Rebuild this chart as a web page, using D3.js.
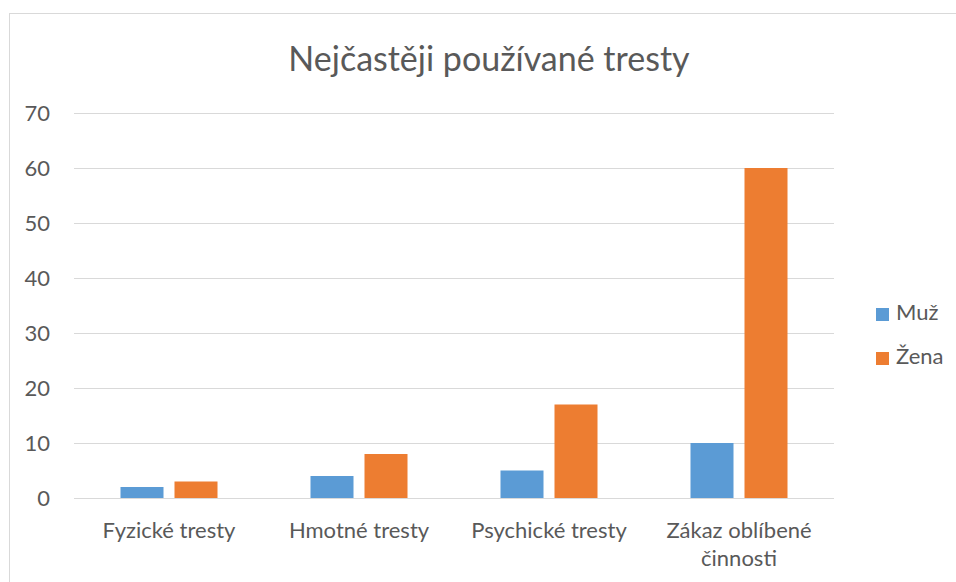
<!DOCTYPE html>
<html>
<head>
<meta charset="utf-8">
<script src="https://cdn.jsdelivr.net/npm/d3@7"></script>
<style>
  body { margin: 0; background: #fff; }
  svg { display: block; font-family: Lato, "Liberation Sans", sans-serif; }
</style>
</head>
<body>
<div class="main_content"></div>
<script>
// chart data
const categories = ['Fyzické tresty', 'Hmotné tresty', 'Psychické tresty', 'Zákaz oblíbené činnosti'];
const seriesNames = ['Muž', 'Žena'];
const muzValues = [2, 4, 5, 10];
const zenaValues = [3, 8, 17, 60];
const yTicks = [0, 10, 20, 30, 40, 50, 60, 70];
const titleText = 'Nejčastěji používané tresty';

const colors = {'Muž': '#5B9BD5', 'Žena': '#ED7D31'};
const textColor = '#595959';
const gridColor = '#D9D9D9';
const fontFamily = 'Lato, "Liberation Sans", sans-serif';

const width = 956, height = 582;
const margin = {top: 113, right: 122, bottom: 84, left: 74};

const svg = d3.select('.main_content').append('svg')
    .attr('width', width)
    .attr('height', height);

// chart area border
svg.append('rect')
    .attr('x', 9.5).attr('y', 13.5)
    .attr('width', 960).attr('height', 600)
    .style('fill', 'none')
    .style('stroke', gridColor)
    .style('stroke-width', 1);

const x0 = d3.scaleBand()
    .domain(categories)
    .range([margin.left, width - margin.right])
    .padding(0);

const x1 = d3.scaleBand()
    .domain(seriesNames)
    .range([0, x0.bandwidth()])
    .paddingInner(0.2037)
    .paddingOuter(0.861);

const y = d3.scaleLinear()
    .domain([0, 70])
    .range([height - margin.bottom, margin.top]);

// gridlines + y labels
const yAxis = svg.append('g')
    .attr('transform', `translate(${margin.left},0)`)
    .call(d3.axisLeft(y).tickValues(yTicks).tickSize(-(width - margin.left - margin.right)).tickPadding(24));
yAxis.select('.domain').remove();
yAxis.selectAll('line').style('stroke', gridColor).style('stroke-width', 1);
yAxis.selectAll('text')
    .style('fill', textColor)
    .style('font-family', fontFamily)
    .style('font-size', '22px')
    .attr('dy', '0.35em');

// bars
const rows = categories.map((c, i) => ({cat: c, 'Muž': muzValues[i], 'Žena': zenaValues[i]}));
const groups = svg.append('g').selectAll('g')
    .data(rows)
    .join('g')
    .attr('transform', d => `translate(${x0(d.cat)},0)`);
groups.selectAll('rect')
    .data(d => seriesNames.map(s => ({key: s, value: d[s]})))
    .join('rect')
    .attr('x', d => x1(d.key))
    .attr('y', d => y(d.value))
    .attr('width', x1.bandwidth())
    .attr('height', d => y(0) - y(d.value))
    .style('fill', d => colors[d.key]);

// x labels
const xAxis = svg.append('g')
    .attr('transform', `translate(0,${height - margin.bottom})`)
    .call(d3.axisBottom(x0).tickSize(0).tickPadding(24));
xAxis.select('.domain').remove();
xAxis.selectAll('text')
    .style('fill', textColor)
    .style('font-family', fontFamily)
    .style('font-size', '22px')
    .call(wrap, 170);

function wrap(texts, maxWidth) {
    texts.each(function () {
        const text = d3.select(this);
        const words = text.text().split(/\s+/);
        const yPos = text.attr('y');
        const dy = parseFloat(text.attr('dy'));
        text.text(null);
        let line = [];
        let lineNo = 0;
        let tspan = text.append('tspan').attr('x', 0).attr('y', yPos).attr('dy', dy + 'em');
        words.forEach(w => {
            line.push(w);
            tspan.text(line.join(' '));
            if (tspan.node().getComputedTextLength() > maxWidth && line.length > 1) {
                line.pop();
                tspan.text(line.join(' '));
                line = [w];
                lineNo++;
                tspan = text.append('tspan').attr('x', 0).attr('y', yPos)
                    .attr('dy', (dy + lineNo * 1.3) + 'em').text(w);
            }
        });
    });
}

// title
svg.append('text')
    .attr('x', 489)
    .attr('y', 71)
    .attr('text-anchor', 'middle')
    .style('fill', textColor)
    .style('font-size', '34px')
    .text(titleText);

// legend
const legend = svg.append('g').selectAll('g')
    .data(seriesNames)
    .join('g')
    .attr('transform', (d, i) => `translate(876,${308 + i * 44})`);
legend.append('rect')
    .attr('width', 13).attr('height', 13)
    .style('fill', d => colors[d]);
legend.append('text')
    .attr('x', 20).attr('y', 12)
    .style('fill', textColor)
    .style('font-size', '22px')
    .text(d => d);
</script>
</body>
</html>
